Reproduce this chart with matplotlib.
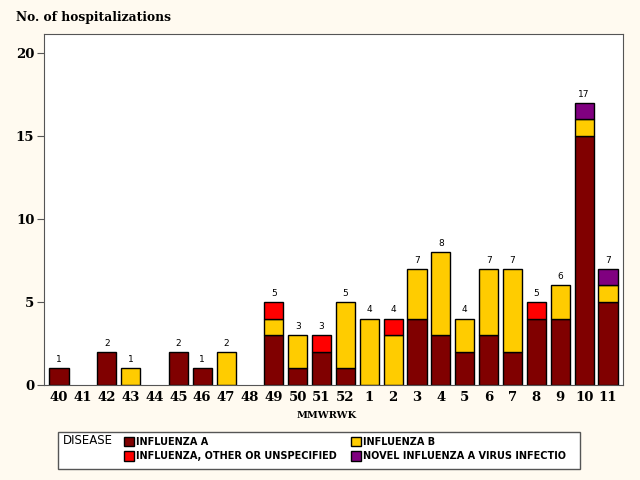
import matplotlib
matplotlib.use("Agg")
import matplotlib.pyplot as plt
import numpy as np

# weeks and counts per disease
weeks = ["40", "41", "42", "43", "44", "45", "46", "47", "48", "49", "50", "51",
         "52", "1", "2", "3", "4", "5", "6", "7", "8", "9", "10", "11"]
flu_a = [1, 0, 2, 0, 0, 2, 1, 0, 0, 3, 1, 2, 1, 0, 0, 4, 3, 2, 3, 2, 4, 4, 15, 5]
flu_b = [0, 0, 0, 1, 0, 0, 0, 2, 0, 1, 2, 0, 4, 4, 3, 3, 5, 2, 4, 5, 0, 2, 1, 1]
flu_other = [0, 0, 0, 0, 0, 0, 0, 0, 0, 1, 0, 1, 0, 0, 1, 0, 0, 0, 0, 0, 1, 0, 0, 0]
flu_novel = [0, 0, 0, 0, 0, 0, 0, 0, 0, 0, 0, 0, 0, 0, 0, 0, 0, 0, 0, 0, 0, 0, 1, 1]

labels = ["INFLUENZA A", "INFLUENZA B", "INFLUENZA, OTHER OR UNSPECIFIED",
          "NOVEL INFLUENZA A VIRUS INFECTIO"]
colors = ["#800000", "#FFCC00", "#FF0000", "#800080"]

bg = "#FFFAF0"
fig = plt.figure(figsize=(6.4, 4.8), dpi=100, facecolor=bg)
ax = fig.add_axes([44 / 640, 95 / 480, 579 / 640, 351 / 480])
ax.set_facecolor("white")

x = np.arange(len(weeks))
bottom = np.zeros(len(weeks))
bars = []
for vals, col, lab in zip([flu_a, flu_b, flu_other, flu_novel], colors, labels):
    v = np.array(vals, dtype=float)
    keep = v > 0  # skip empty segments so no flat line is drawn
    b = ax.bar(x[keep], v[keep], 0.8, bottom=bottom[keep], color=col,
               edgecolor="black", linewidth=1.0, label=lab)
    bars.append(b)
    bottom = bottom + v

# totals on top
for xi, tot in zip(x, bottom):
    if tot > 0:
        ax.text(xi, tot + 0.25, str(int(tot)), ha="center", va="bottom",
                fontsize=6.5, family="DejaVu Sans")

ax.set_xlim(-0.63, len(weeks) - 0.37)
ax.set_ylim(0, 21.15)
ax.set_yticks([0, 5, 10, 15, 20])
ax.set_xticks(x)
ax.set_xticklabels(weeks)
for t in ax.get_xticklabels() + ax.get_yticklabels():
    t.set_family("DejaVu Serif")
    t.set_fontweight("bold")
    t.set_fontsize(9.5)
ax.tick_params(axis="x", length=0, pad=4)
ax.tick_params(axis="y", length=5, color="#555555", pad=2)
for s in ax.spines.values():
    s.set_color("#555555")

fig.text(16 / 640, 1 - 18 / 480, "No. of hospitalizations", family="DejaVu Serif",
         fontweight="bold", fontsize=8.8, va="center", ha="left")
fig.text(327 / 640, 1 - 415 / 480, "MMWRWK", family="DejaVu Serif",
         fontweight="bold", fontsize=7, va="center", ha="center")

# legend box
box = plt.Rectangle((58 / 640, 11 / 480), 522 / 640, 37 / 480, transform=fig.transFigure,
                    facecolor="white", edgecolor="#555555", linewidth=1.0)
fig.patches.append(box)
fig.text(63 / 640, 1 - 441 / 480, "DISEASE", family="DejaVu Sans", fontsize=8.5,
         va="center", ha="left")
handles = [bars[0], bars[2], bars[1], bars[3]]
leg = fig.legend(handles, [labels[0], labels[2], labels[1], labels[3]], ncol=2,
                 loc="upper left", bbox_to_anchor=(118 / 640, 1 - 431 / 480),
                 frameon=False, fontsize=7, handlelength=1.0, handleheight=1.1,
                 handletextpad=0.3, columnspacing=1.4, labelspacing=0.45,
                 borderpad=0.1)
for t in leg.get_texts():
    t.set_fontweight("bold")

fig.savefig("out.png", dpi=100, facecolor=bg)
